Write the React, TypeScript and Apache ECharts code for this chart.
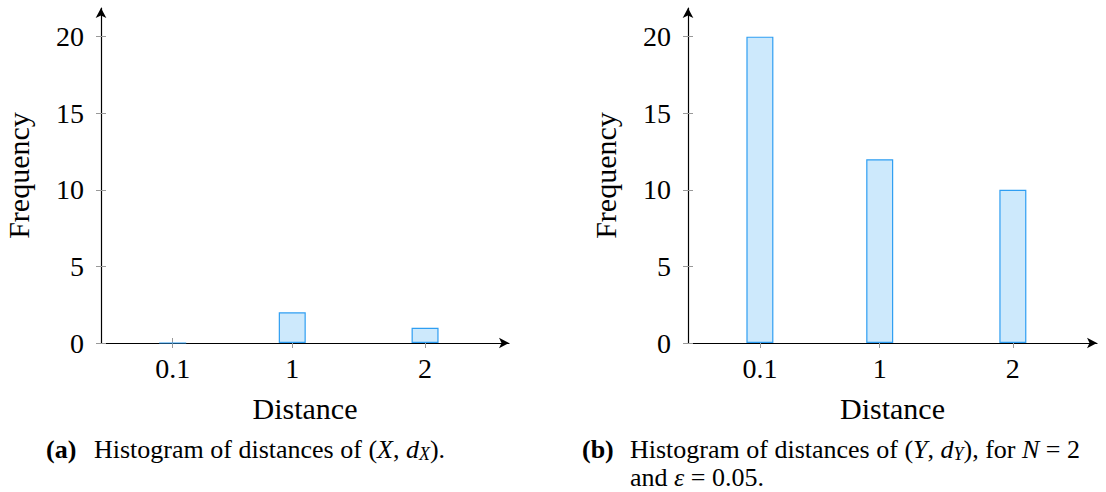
import React, { useEffect, useRef } from "react";
import * as echarts from "echarts";

const distances = [0.1, 1, 2];
const freqX = [0, 2, 1];
const freqY = [20, 12, 10];
const yTickValues = [0, 5, 10, 15, 20];
const xTickValues = [0.1, 1, 2];

const FONT = "Liberation Serif";
const X_MIN = -0.44;
const X_MAX = 2.632;
const Y_MAX = 21.87;
const TICK_COLOR = "#999999";
const FILL = "#cde9fc";
const STROKE = "#2f9ef2";

function xAxes(gridIndex: number) {
  return [
    {
      type: "value",
      gridIndex,
      min: X_MIN,
      max: X_MAX,
      position: "bottom",
      name: "Distance",
      nameLocation: "middle",
      nameGap: 50,
      nameTextStyle: { fontFamily: FONT, fontSize: 30, color: "#000" },
      axisLine: {
        show: true,
        onZero: false,
        lineStyle: { color: "#000", width: 1.2 },
        symbol: ["none", "arrow"],
        symbolSize: [8, 10],
      },
      axisTick: {
        show: true,
        inside: false,
        length: 5,
        customValues: xTickValues,
        lineStyle: { color: TICK_COLOR, width: 1 },
      },
      axisLabel: {
        show: true,
        customValues: xTickValues,
        margin: 11,
        fontFamily: FONT,
        fontSize: 28,
        color: "#000",
        formatter: (v: number) => String(v),
      },
      splitLine: { show: false },
    },
    {
      type: "value",
      gridIndex,
      min: X_MIN,
      max: X_MAX,
      position: "bottom",
      offset: 0,
      axisLine: { show: false, onZero: false },
      axisTick: {
        show: true,
        inside: true,
        length: 5,
        customValues: xTickValues,
        lineStyle: { color: TICK_COLOR, width: 1 },
      },
      axisLabel: { show: false, customValues: xTickValues },
      splitLine: { show: false },
    },
  ];
}

function yAxes(gridIndex: number) {
  return [
    {
      type: "value",
      gridIndex,
      min: 0,
      max: Y_MAX,
      position: "left",
      name: "Frequency",
      nameLocation: "middle",
      nameGap: 68,
      nameTextStyle: { fontFamily: FONT, fontSize: 30, color: "#000" },
      axisLine: {
        show: true,
        onZero: false,
        lineStyle: { color: "#000", width: 1.2 },
        symbol: ["none", "arrow"],
        symbolSize: [8, 10],
      },
      axisTick: {
        show: true,
        inside: false,
        length: 5,
        customValues: yTickValues,
        lineStyle: { color: TICK_COLOR, width: 1 },
      },
      axisLabel: {
        show: true,
        customValues: yTickValues,
        margin: 17,
        fontFamily: FONT,
        fontSize: 28,
        color: "#000",
      },
      splitLine: { show: false },
    },
    {
      type: "value",
      gridIndex,
      min: 0,
      max: Y_MAX,
      position: "left",
      offset: 0,
      axisLine: { show: false, onZero: false },
      axisTick: {
        show: true,
        inside: true,
        length: 5,
        customValues: yTickValues,
        lineStyle: { color: TICK_COLOR, width: 1 },
      },
      axisLabel: { show: false, customValues: yTickValues },
      splitLine: { show: false },
    },
  ];
}

function barSeries(values: number[], xIdx: number, yIdx: number) {
  return {
    type: "bar",
    xAxisIndex: xIdx,
    yAxisIndex: yIdx,
    data: distances.map((d, i) => [d, values[i]]),
    barWidth: 27,
    itemStyle: { color: FILL, borderColor: STROKE, borderWidth: 1.2 },
    silent: true,
  };
}

const capRich = {
  b: { fontFamily: FONT, fontSize: 26, fontWeight: "bold", color: "#000", lineHeight: 24, verticalAlign: "top" },
  n: { fontFamily: FONT, fontSize: 26, color: "#000", lineHeight: 24, verticalAlign: "top" },
  i: { fontFamily: FONT, fontSize: 26, fontStyle: "italic", color: "#000", lineHeight: 24, verticalAlign: "top" },
  s: {
    fontFamily: FONT,
    fontSize: 18,
    fontStyle: "italic",
    color: "#000",
    lineHeight: 36,
    verticalAlign: "middle",
  },
};

export default function App() {
  const ref = useRef<HTMLDivElement>(null);
  useEffect(() => {
    document.body.style.margin = "0";
    if (!ref.current) return;
    const chart = echarts.init(ref.current, undefined, { renderer: "svg" });
    chart.setOption({
      animation: false,
      backgroundColor: "#ffffff",
      textStyle: { fontFamily: FONT },
      grid: [
        { left: 101, top: 8, width: 408, height: 335, containLabel: false },
        { left: 688, top: 8, width: 409, height: 335, containLabel: false },
      ],
      xAxis: [...xAxes(0), ...xAxes(1)],
      yAxis: [...yAxes(0), ...yAxes(1)],
      series: [barSeries(freqX, 0, 0), barSeries(freqY, 2, 2)],
      graphic: [
        {
          type: "text",
          left: 46,
          top: 436,
          style: { text: "{b|(a)}", rich: capRich },
        },
        {
          type: "text",
          left: 94,
          top: 436,
          style: {
            text: "{n|Histogram of distances of (}{i|X}{n|, }{i|d}{s|X}{n|).}",
            rich: capRich,
          },
        },
        {
          type: "text",
          left: 582,
          top: 436,
          style: { text: "{b|(b)}", rich: capRich },
        },
        {
          type: "text",
          left: 630,
          top: 436,
          style: {
            text: "{n|Histogram of distances of (}{i|Y}{n|, }{i|d}{s|Y}{n|), for }{i|N}{n| = 2}",
            rich: capRich,
          },
        },
        {
          type: "text",
          left: 630,
          top: 464,
          style: {
            text: "{n|and }{i|ε}{n| = 0.05.}",
            rich: capRich,
          },
        },
      ],
    });
    return () => chart.dispose();
  }, []);
  return <div ref={ref} style={{ width: 1106, height: 492 }} />;
}
